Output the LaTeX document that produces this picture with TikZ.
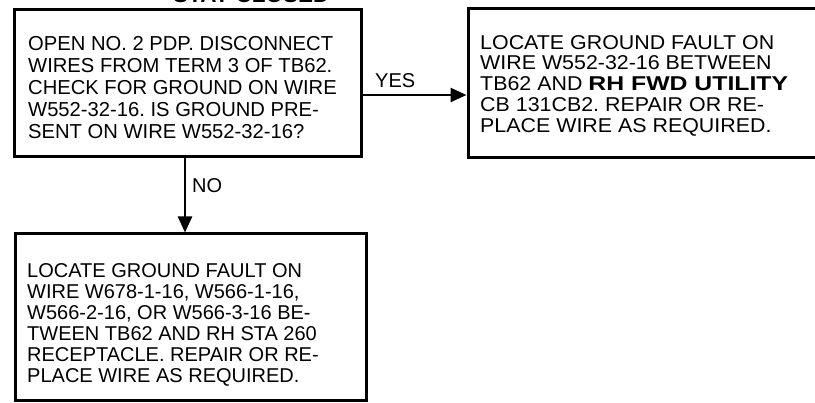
\documentclass[tikz,border=0pt]{standalone}
\usepackage{fontspec}
\setmainfont{Liberation Sans}
\newfontfamily\boxtwofont[FakeStretch=1.07]{Liberation Sans}
\newfontfamily\wideboldfont[FakeStretch=1.24]{Liberation Sans}
\usetikzlibrary{arrows.meta}
\frenchspacing
\begin{document}
\begin{tikzpicture}[x=1pt,y=-1pt,
  box/.style={draw, line width=3pt, rectangle, anchor=north west, inner sep=0pt},
  txt/.style={anchor=north west, align=left, inner sep=0pt},
  lbl/.style={font=\fontsize{20}{22}\selectfont, inner sep=0pt, anchor=base west},
  conn/.style={line width=2.5pt, -{Triangle[length=16pt,width=14pt]}}]
\useasboundingbox (0,0) rectangle (815,403);
\begin{scope}
\clip (0,0) rectangle (815,403);
\node[inner sep=0pt, font=\fontsize{22.5}{24}\selectfont\bfseries, anchor=base west] (title) at (173,2.5) {STAY CLOSED};
\node[box, minimum width=346.5pt, minimum height=147.5pt] (b1) at (13,8) {};
\node[box, minimum width=370pt, minimum height=149.5pt] (b2) at (466.5,7) {};
\node[box, minimum width=351.5pt, minimum height=166.5pt] (b3) at (13.5,232.5) {};
\node[txt, font=\fontsize{20.2}{22}\selectfont] (t1) at (28,36)
 {OPEN NO. 2 PDP. DISCONNECT\\ WIRES FROM TERM 3 OF TB62.\\ CHECK FOR GROUND ON WIRE\\ W552-32-16. IS GROUND PRE-\\ SENT ON WIRE W552-32-16?};
\node[txt, font=\boxtwofont\fontsize{20}{20.8}\selectfont] (t2) at (480,35)
 {LOCATE GROUND FAULT ON\\ WIRE W552-32-16 BETWEEN\\ TB62 AND {\wideboldfont\bfseries RH FWD UTILITY}\\ CB 131CB2. REPAIR OR RE-\\ PLACE WIRE AS REQUIRED.};
\node[txt, font=\fontsize{20}{21}\selectfont] (t3) at (27,263)
 {LOCATE GROUND FAULT ON\\ WIRE W678-1-16, W566-1-16,\\ W566-2-16, OR W566-3-16 BE-\\ TWEEN TB62 AND RH STA 260\\ RECEPTACLE. REPAIR OR RE-\\ PLACE WIRE AS REQUIRED.};
\end{scope}
\coordinate (yes) at (0,95);
\coordinate (nox) at (185,0);
\draw[conn] (b1.east |- yes) -- (b2.west |- yes);
\draw[conn] (nox |- b1.south) -- (nox |- b3.north);
\node[lbl] (yeslbl) at (375,88) {YES};
\node[lbl] (nolbl) at (192,193) {NO};
\end{tikzpicture}
\end{document}
